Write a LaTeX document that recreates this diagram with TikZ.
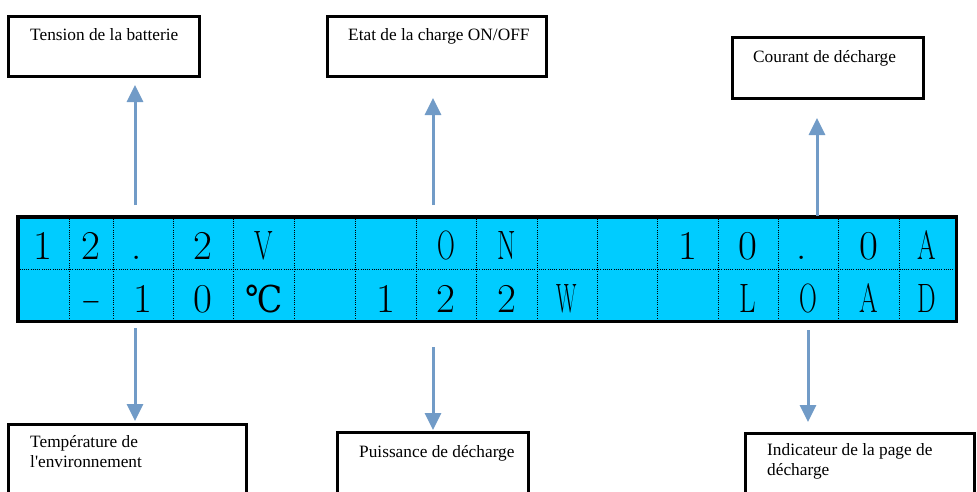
\documentclass[tikz,border=0pt]{standalone}
\usepackage{fontspec}
\usepackage{graphicx}
\setmainfont{Liberation Serif}
\newfontfamily\lblfont{Liberation Serif}
\newfontfamily\lcdfont{Latin Modern Roman}
\newfontfamily\symfont{DejaVu Serif}
\usetikzlibrary{arrows.meta}
\definecolor{lcdcyan}{RGB}{0,204,255}
\definecolor{arrowblue}{RGB}{113,155,199}
\newcommand{\lc}[2]{\scalebox{#1}[1]{#2}}
\begin{document}
\begin{tikzpicture}[x=1pt,y=-1pt,
  lbl/.style={draw=black, line width=3pt, rectangle, inner sep=0pt, outer sep=0pt, anchor=north west},
  lbltxt/.style={anchor=base west, inner sep=0pt, font=\lblfont\fontsize{17.3}{20}\selectfont, align=left},
  arr/.style={draw=arrowblue, line width=3pt, -{Triangle[width=16pt,length=17pt]}},
  ch/.style={anchor=base, inner sep=0pt, font=\lcdfont\fontsize{41}{41}\selectfont},
  sep/.style={draw=black, line width=0.8pt, dash pattern=on 1pt off 1.2pt}]
\useasboundingbox (0,0) rectangle (977,491);
\clip (0,0) rectangle (977,491);

% LCD
\node[draw=black, line width=3.5pt, fill=lcdcyan, minimum width=938.5pt, minimum height=104.5pt,
      inner sep=0pt, outer sep=0pt, anchor=north west] (lcd) at (17.75,216.75) {};
\foreach \x in {69,113,173,233,294,355,416,476,537,597,657,718,778,838,899}
  \draw[sep] (\x,218.5) -- (\x,319.5);
\draw[sep] (19.5,269) -- (954.5,269);

% top row (baseline 259)
\node[ch] (t1)  at (43,259)    {1};
\node[ch] (t2)  at (91,259)    {2};
\node[ch] (t3)  at (137,259)   {.};
\node[ch] (t4)  at (203,259)   {2};
\node[ch] (t5)  at (263.5,259) {\lc{0.65}{V}};
\node[ch] (t8)  at (446,259)   {\lc{0.6}{O}};
\node[ch] (t9)  at (506.5,259) {\lc{0.65}{N}};
\node[ch] (t12) at (687.5,259) {1};
\node[ch] (t13) at (748,259)   {0};
\node[ch] (t14) at (802,259)   {.};
\node[ch] (t15) at (868.5,259) {0};
\node[ch] (t16) at (927,259)   {\lc{0.65}{A}};

% bottom row (baseline 312)
\node[ch] (u2)  at (91,312)    {\lc{0.6}{−}};
\node[ch] (u3)  at (143,312)   {1};
\node[ch] (u4)  at (203,312)   {0};
\node[ch] (u5)  at (264,312)   {\symfont\fontsize{37}{37}\selectfont\lc{0.9}{℃}};
\node[ch] (u7)  at (385.5,312) {1};
\node[ch] (u8)  at (446,312)   {2};
\node[ch] (u9)  at (506.5,312) {2};
\node[ch] (u10) at (567,312)   {\lc{0.52}{W}};
\node[ch] (u13) at (748,312)   {\lc{0.7}{L}};
\node[ch] (u14) at (808,312)   {\lc{0.6}{O}};
\node[ch] (u15) at (868.5,312) {\lc{0.65}{A}};
\node[ch] (u16) at (927,312)   {\lc{0.64}{D}};

% label boxes
\node[lbl, minimum width=191pt, minimum height=60pt] (b1) at (8.5,16.5) {};
\node[lbltxt] (l1) at (30,40) {Tension de la batterie};
\node[lbl, minimum width=219pt, minimum height=60pt] (b2) at (327.5,16.5) {};
\node[lbltxt] (l2) at (348,40) {Etat de la charge ON/OFF};
\node[lbl, minimum width=191pt, minimum height=61pt] (b3) at (732.5,37.5) {};
\node[lbltxt] (l3) at (753,62) {Courant de décharge};
\node[lbl, minimum width=238pt, minimum height=100pt] (b4) at (8.5,424.5) {};
\node[lbltxt] (l4) at (30,467) {Température de\\l'environnement};
\node[lbl, minimum width=191pt, minimum height=100pt] (b5) at (337.5,432.5) {};
\node[lbltxt] (l5) at (359,457) {Puissance de décharge};
\node[lbl, minimum width=229pt, minimum height=100pt] (b6) at (745.5,433.5) {};
\node[lbltxt] (l6) at (767,475) {Indicateur de la page de\\décharge};

% arrows
\coordinate (a1s) at (135,205); \coordinate (a1e) at (135,85);
\coordinate (a2s) at (433,205); \coordinate (a2e) at (433,98);
\coordinate (a3s) at (817,216); \coordinate (a3e) at (817,118);
\coordinate (a4s) at (135,328); \coordinate (a4e) at (135,421);
\coordinate (a5s) at (433,347); \coordinate (a5e) at (433,430);
\coordinate (a6s) at (808,330); \coordinate (a6e) at (808,422);
\draw[arr] (a1s) -- (a1e);
\draw[arr] (a2s) -- (a2e);
\draw[arr] (a3s) -- (a3e);
\draw[arr] (a4s) -- (a4e);
\draw[arr] (a5s) -- (a5e);
\draw[arr] (a6s) -- (a6e);
\end{tikzpicture}
\end{document}
